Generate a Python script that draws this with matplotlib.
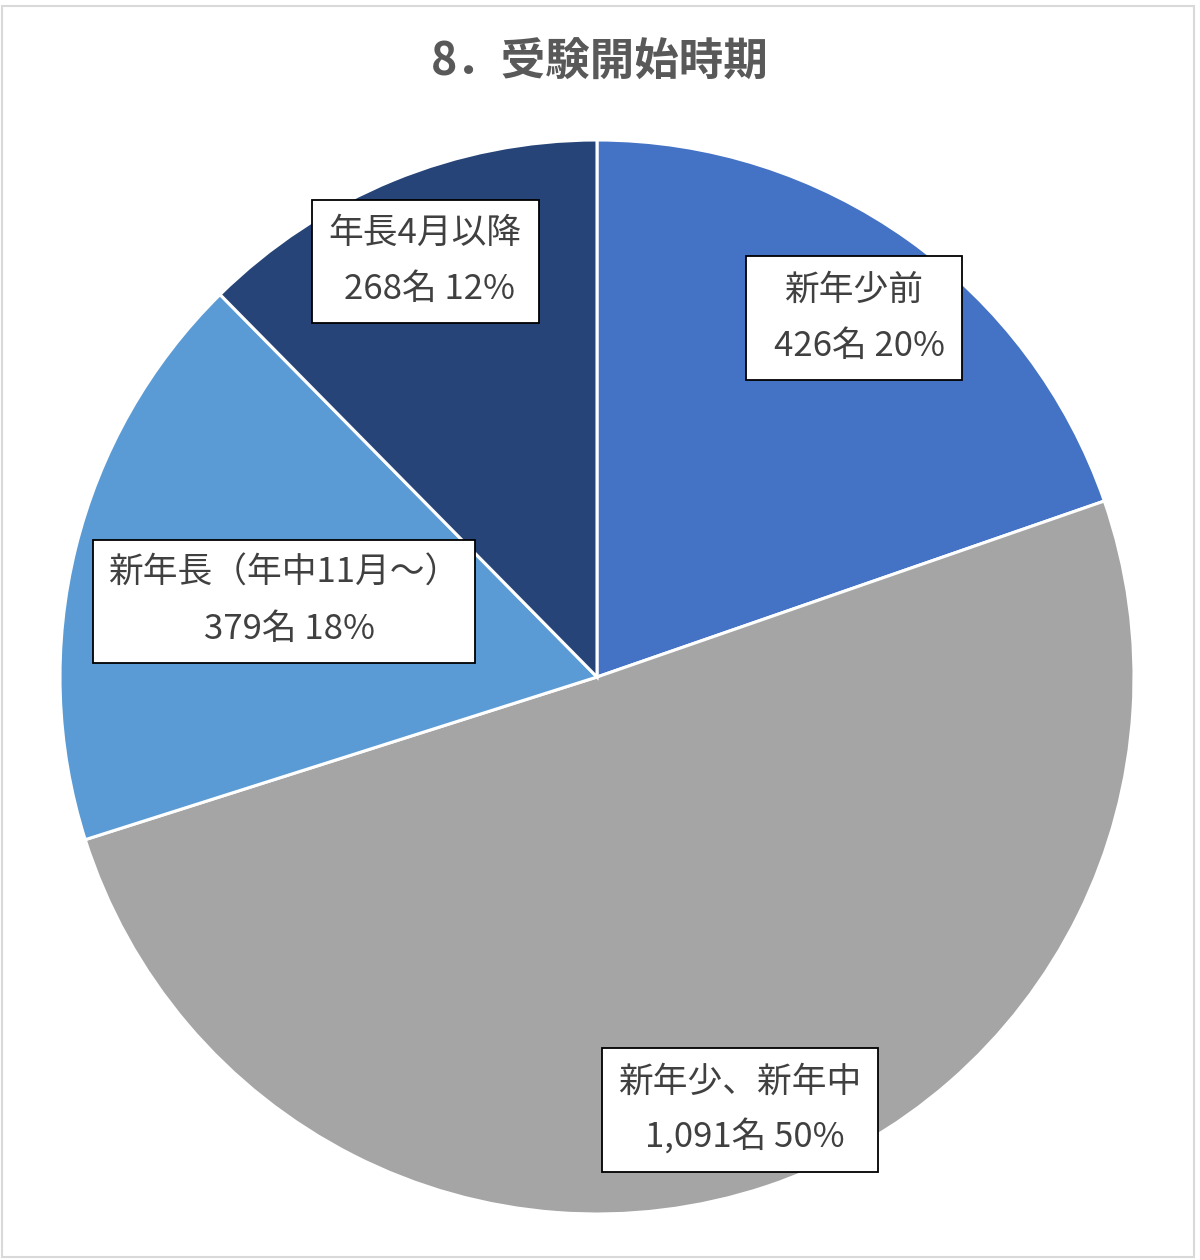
import matplotlib.pyplot as plt
from matplotlib.patches import Rectangle

plt.rcParams['font.family'] = ['Noto Sans CJK JP', 'DejaVu Sans']

# data
categories = ['新年少前', '新年少、新年中', '新年長（年中11月～）', '年長4月以降']
counts = [426, 1091, 379, 268]
pct_labels = ['20%', '50%', '18%', '12%']
count_labels = ['426名', '1,091名', '379名', '268名']
colors = ['#4472C4', '#A5A5A5', '#5B9BD5', '#264478']

# label boxes: centre and size in pixels (layout only)
box_center = [(854, 318), (740, 1110), (284, 601), (425, 261)]
box_size = [(216, 124), (276, 124), (382, 123), (227, 123)]

W, H = 1200, 1260
fig = plt.figure(figsize=(W / 100, H / 100), dpi=100)
fig.patches.append(Rectangle((2 / W, 3 / H), 1 - 8 / W, 1 - 9 / H, transform=fig.transFigure,
                             fill=False, edgecolor='#D9D9D9', linewidth=1.5))

cx, cy, r = 597, 677, 537
ax = fig.add_axes([(cx - r) / W, (H - cy - r) / H, 2 * r / W, 2 * r / H])
ax.pie(counts, colors=colors, startangle=90, counterclock=False, radius=1,
       wedgeprops=dict(edgecolor='white', linewidth=2.2))
ax.set_xlim(-1, 1)
ax.set_ylim(-1, 1)
ax.set_aspect('equal')
ax.axis('off')

for cat, cnt, pct, (bx, by), (bw, bh) in zip(categories, count_labels, pct_labels, box_center, box_size):
    x = (bx - cx) / r
    y = (cy - by) / r
    w = bw / r
    h = bh / r
    ax.add_patch(Rectangle((x - w / 2, y - h / 2), w, h, facecolor='white',
                           edgecolor='black', linewidth=1.3, zorder=3))
    ax.text(x, y + 28 / r, cat, ha='center', va='center', fontsize=25,
            color='#404040', zorder=4)
    ax.text(x + 5 / r, y - 28 / r, f'{cnt} {pct}', ha='center', va='center', fontsize=25,
            color='#404040', zorder=4)

fig.text(0.5, 1 - 63 / H, '8．受験開始時期', ha='center', va='center',
         fontsize=32, fontweight='bold', color='#595959')

fig.savefig('out.png', dpi=100, facecolor='white')
